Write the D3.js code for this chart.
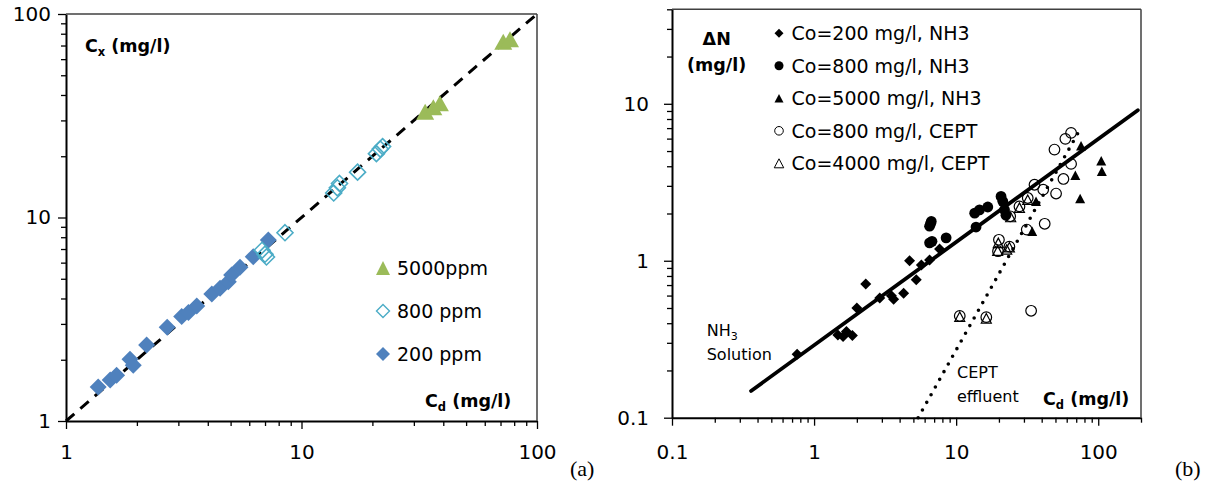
<!DOCTYPE html>
<html>
<head>
<meta charset="utf-8">
<script src="https://cdn.jsdelivr.net/npm/d3@7"></script>
<style>
  body { margin: 0; background: #fff; }
  text { font-family: "DejaVu Sans", sans-serif; fill: #000; }
  .bold { font-weight: bold; }
  .panel { font-family: "Liberation Serif", serif; font-size: 22px; }
</style>
</head>
<body>
<svg id="chart" width="1213" height="486"></svg>
<script>
// ---- panel (a): Cd measured vs Cx, mg/l ----
var cd200 = [1.37, 1.54, 1.64, 1.87, 1.93, 2.2, 2.69, 3.1, 3.31, 3.59, 4.16, 4.51, 4.89, 5.05, 5.48, 6.24, 7.23];
var cx200 = [1.47, 1.59, 1.68, 2.01, 1.88, 2.36, 2.89, 3.26, 3.41, 3.67, 4.21, 4.49, 4.84, 5.22, 5.69, 6.42, 7.75];
var cd800 = [6.8, 7.0, 7.1, 8.51, 13.7, 14.2, 14.5, 17.3, 20.8, 21.6, 22.1];
var cx800 = [6.9, 6.6, 6.4, 8.42, 13.2, 14.0, 14.7, 16.7, 20.6, 21.7, 22.3];
var cd5000 = [33.5, 36.3, 38.7, 71.9, 76.8];
var cx5000 = [33.1, 34.8, 36.4, 73.1, 75.1];
var oneToOne = [1, 100];
var legendA = ["5000ppm", "800 ppm", "200 ppm"];

// ---- panel (b): Cd vs deltaN, mg/l ----
var nh3_200_cd = [0.76, 1.47, 1.6, 1.86, 1.69, 2.0, 2.31, 2.9, 3.5, 3.63, 4.27, 4.7, 5.24, 5.69, 6.5, 7.64];
var nh3_200_dn = [0.254, 0.337, 0.329, 0.334, 0.354, 0.50, 0.71, 0.578, 0.598, 0.569, 0.62, 1.0, 0.756, 0.94, 1.01, 1.19];
var nh3_800_cd = [6.68, 6.5, 6.6, 6.76, 6.5, 8.5, 13.8, 13.5, 14.6, 16.7, 20.7, 21.3, 21.9, 22.4];
var nh3_800_dn = [1.78, 1.66, 1.72, 1.33, 1.30, 1.40, 1.64, 2.01, 2.11, 2.2, 2.57, 2.39, 2.11, 1.95];
var nh3_5000_cd = [34.3, 36.5, 69, 75.7, 74.6, 105, 106];
var nh3_5000_dn = [1.54, 2.39, 3.5, 5.4, 2.49, 4.33, 3.72];
var cept800_cd = [20, 19.7, 23.7, 10.6, 16.3, 31.9, 27.9, 24, 31.4, 33.7, 35.6, 41, 42, 50.5, 56.9, 64.4, 49.2, 58.7, 64.4];
var cept800_dn = [1.36, 1.15, 1.23, 0.445, 0.437, 2.51, 2.22, 1.92, 1.58, 0.48, 3.05, 2.84, 1.72, 2.68, 3.32, 4.14, 5.11, 5.98, 6.53];
var cept4000_cd = [19.8, 19.6, 22.7, 23.7, 10.6, 16.3, 24.2, 27.9, 31.9];
var cept4000_dn = [1.30, 1.16, 1.18, 1.22, 0.44, 0.43, 1.90, 2.18, 2.45];
var nh3Fit_cd = [0.36, 190];
var nh3Fit_dn = [0.148, 9.1];
var ceptFit_cd = [5.4, 76];
var ceptFit_dn = [0.1, 7.1];
var legendB = ["Co=200 mg/l, NH3", "Co=800 mg/l, NH3", "Co=5000 mg/l, NH3", "Co=800 mg/l, CEPT", "Co=4000 mg/l, CEPT"];

var svg = d3.select("#chart");

// marker shapes centred on 0,0
function diamond(s) { return "M0," + (-s) + "L" + s + ",0L0," + s + "L" + (-s) + ",0Z"; }
function triangle(w, h) { return "M0," + (-h / 2) + "L" + (w / 2) + "," + (h / 2) + "L" + (-w / 2) + "," + (h / 2) + "Z"; }
function circle(r) { return d3.symbol().type(d3.symbolCircle).size(Math.PI * r * r)(); }

function logTicks(lo, hi) {
    var t = [];
    for (var d = Math.pow(10, Math.floor(Math.log10(lo) + 1e-9)); d <= hi * 1.0001; d *= 10)
	for (var k = 1; k < 10; k++) {
	    var v = +(d * k).toPrecision(3);
	    if (v >= lo * 0.9999 && v <= hi * 1.0001) t.push(v);
	}
    return t;
}

function drawAxes(g, x, y, majorX, majorY, fmtX, fmtY, padX, padY) {
    var w = x.range()[1], h = y.range()[0];
    var xAxis = g.append("g").attr("class", "x-axis").attr("transform", "translate(0," + h + ")")
	.call(d3.axisBottom(x).tickValues(logTicks(x.domain()[0], x.domain()[1]))
	      .tickSize(5).tickSizeOuter(0).tickPadding(padX)
	      .tickFormat(function(d) { return majorX.indexOf(d) >= 0 ? fmtX(d) : ""; }));
    var yAxis = g.append("g").attr("class", "y-axis")
	.call(d3.axisLeft(y).tickValues(logTicks(y.domain()[0], y.domain()[1]))
	      .tickSize(5).tickSizeOuter(0).tickPadding(padY)
	      .tickFormat(function(d) { return majorY.indexOf(d) >= 0 ? fmtY(d) : ""; }));
    [xAxis, yAxis].forEach(function(a) {
	a.attr("font-size", null).attr("font-family", null);
	a.selectAll("text").style("font-size", "20px");
	a.select(".domain").attr("stroke", "#000").attr("stroke-width", 2);
	a.selectAll(".tick line").attr("stroke", "#000").attr("stroke-width", 1.3);
    });
    xAxis.selectAll(".tick").filter(function(d) { return majorX.indexOf(d) >= 0; }).select("line").attr("y2", 8);
    yAxis.selectAll(".tick").filter(function(d) { return majorY.indexOf(d) >= 0; }).select("line").attr("x2", -8);
    // box top and right
    g.append("line").attr("x1", 0).attr("x2", w).attr("y1", 0).attr("y2", 0)
	.attr("stroke", "#404040").attr("stroke-width", 1.5);
    g.append("line").attr("x1", w).attr("x2", w).attr("y1", 0).attr("y2", h)
	.attr("stroke", "#404040").attr("stroke-width", 1.5);
}

function scatter(g, x, y, xs, ys, shape, fill, stroke, sw) {
    g.append("g").selectAll("path")
	.data(d3.zip(xs, ys))
	.enter().append("path")
	.attr("d", shape)
	.attr("transform", function(d) { return "translate(" + x(d[0]) + "," + y(d[1]) + ")"; })
	.attr("fill", fill)
	.attr("stroke", stroke)
	.attr("stroke-width", sw);
}

// ================= panel (a) =================
var ga = svg.append("g").attr("transform", "translate(66,14)");
var xa = d3.scaleLog().domain([1, 100]).range([0, 471]);
var ya = d3.scaleLog().domain([1, 100]).range([407, 0]);
var fmtInt = d3.format("d");
drawAxes(ga, xa, ya, [1, 10, 100], [1, 10, 100], fmtInt, fmtInt, 19, 10);

ga.append("path")
    .datum(d3.zip(oneToOne, oneToOne))
    .attr("d", d3.line().x(function(d) { return xa(d[0]); }).y(function(d) { return ya(d[1]); }))
    .attr("fill", "none").attr("stroke", "#000").attr("stroke-width", 3)
    .attr("stroke-dasharray", "11,8");

var blue = "#4f81bd", cyan = "#4bacc6", green = "#9bbb59";
scatter(ga, xa, ya, cd200, cx200, diamond(8.5), blue, "none", 0);
scatter(ga, xa, ya, cd800, cx800, diamond(8), "none", cyan, 1.6);
scatter(ga, xa, ya, cd5000, cx5000, triangle(18, 16), green, "none", 0);

var legA = [triangle(14, 14), diamond(6.5), diamond(7)];
var legAFill = [green, "#fff", blue];
var legAStroke = ["none", cyan, "none"];
legendA.forEach(function(t, i) {
    var yy = 254 + i * 43;
    ga.append("path").attr("d", legA[i]).attr("transform", "translate(317," + yy + ")")
	.attr("fill", legAFill[i]).attr("stroke", legAStroke[i]).attr("stroke-width", 1.4);
    ga.append("text").attr("x", 331).attr("y", yy).attr("dy", "0.36em")
	.style("font-size", "19px").text(t);
});

var cxLab = ga.append("text").attr("class", "bold").attr("x", 19).attr("y", 38).style("font-size", "17.5px");
cxLab.append("tspan").text("C");
cxLab.append("tspan").attr("dy", 4).style("font-size", "11.5px").text("x");
cxLab.append("tspan").attr("dy", -4).text(" (mg/l)");

var cdLabA = ga.append("text").attr("class", "bold").attr("x", 359).attr("y", 393).style("font-size", "17.5px");
cdLabA.append("tspan").text("C");
cdLabA.append("tspan").attr("dy", 4).style("font-size", "11.5px").text("d");
cdLabA.append("tspan").attr("dy", -4).text(" (mg/l)");

svg.append("text").attr("class", "panel").attr("x", 570).attr("y", 476).text("(a)");

// ================= panel (b) =================
var gb = svg.append("g").attr("transform", "translate(672,9.3)");
var xb = d3.scaleLog().domain([0.1, 200]).range([0, 469]);
var yb = d3.scaleLog().domain([0.1, 40]).range([408.4, 0]);
var fmtDec = function(d) { return d < 1 ? "0.1" : fmtInt(d); };
drawAxes(gb, xb, yb, [0.1, 1, 10, 100], [0.1, 1, 10], fmtDec, fmtDec, 22, 18);

var lineB = d3.line().x(function(d) { return xb(d[0]); }).y(function(d) { return yb(d[1]); });
gb.append("path").datum(d3.zip(nh3Fit_cd, nh3Fit_dn)).attr("d", lineB)
    .attr("fill", "none").attr("stroke", "#000").attr("stroke-width", 3.8).attr("stroke-linecap", "round");
gb.append("path").datum(d3.zip(ceptFit_cd, ceptFit_dn)).attr("d", lineB)
    .attr("fill", "none").attr("stroke", "#000").attr("stroke-width", 3.6)
    .attr("stroke-linecap", "round").attr("stroke-dasharray", "0,8.8");

scatter(gb, xb, yb, nh3_200_cd, nh3_200_dn, diamond(5.5), "#000", "none", 0);
scatter(gb, xb, yb, nh3_800_cd, nh3_800_dn, circle(5.4), "#000", "none", 0);
scatter(gb, xb, yb, nh3_5000_cd, nh3_5000_dn, triangle(10, 9.5), "#000", "none", 0);
scatter(gb, xb, yb, cept800_cd, cept800_dn, circle(5.3), "none", "#000", 1.2);
scatter(gb, xb, yb, cept4000_cd, cept4000_dn, triangle(10, 9.5), "none", "#000", 1.2);

var legB = [diamond(4.5), circle(4.5), triangle(9, 8.5), circle(4.3), triangle(9.5, 9)];
var legBFill = ["#000", "#000", "#000", "#fff", "#fff"];
var legBStroke = ["none", "none", "none", "#000", "#000"];
legendB.forEach(function(t, i) {
    var yy = 24 + i * 32.5;
    gb.append("path").attr("d", legB[i]).attr("transform", "translate(107," + yy + ")")
	.attr("fill", legBFill[i]).attr("stroke", legBStroke[i]).attr("stroke-width", 1);
    gb.append("text").attr("x", 119.5).attr("y", yy).attr("dy", "0.36em")
	.style("font-size", "19px").text(t);
});

gb.append("text").attr("class", "bold").attr("x", 44.7).attr("y", 35.5)
    .attr("text-anchor", "middle").style("font-size", "17.5px").text("ΔN");
gb.append("text").attr("class", "bold").attr("x", 44.7).attr("y", 62)
    .attr("text-anchor", "middle").style("font-size", "17.5px").text("(mg/l)");

var nh3Lab = gb.append("text").attr("x", 34.7).attr("y", 326.5).style("font-size", "16px");
nh3Lab.append("tspan").text("NH");
nh3Lab.append("tspan").attr("dy", 4).style("font-size", "11px").text("3");
gb.append("text").attr("x", 34.7).attr("y", 350.5).style("font-size", "16px").text("Solution");
gb.append("text").attr("x", 285).attr("y", 369).style("font-size", "16px").text("CEPT");
gb.append("text").attr("x", 285).attr("y", 392.5).style("font-size", "16px").text("effluent");

var cdLabB = gb.append("text").attr("class", "bold").attr("x", 371).attr("y", 396).style("font-size", "17.5px");
cdLabB.append("tspan").text("C");
cdLabB.append("tspan").attr("dy", 4).style("font-size", "11.5px").text("d");
cdLabB.append("tspan").attr("dy", -4).text(" (mg/l)");

svg.append("text").attr("class", "panel").attr("x", 1175).attr("y", 476).text("(b)");
</script>
</body>
</html>
